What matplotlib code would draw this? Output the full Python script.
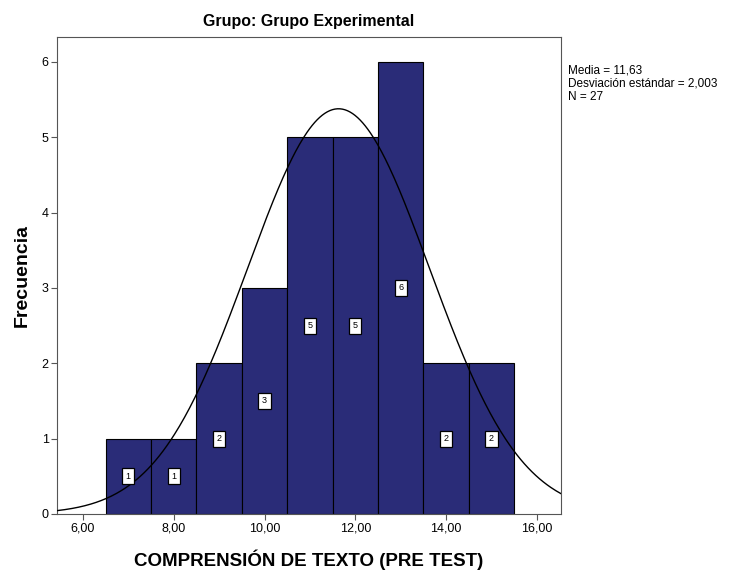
import numpy as np
import matplotlib
matplotlib.use("Agg")
import matplotlib.pyplot as plt

bin_centers = [7, 8, 9, 10, 11, 12, 13, 14, 15]
counts = [1, 1, 2, 3, 5, 5, 6, 2, 2]
mean_val = 11.63
sd_val = 2.003
n_val = 27
xticks = [6, 8, 10, 12, 14, 16]
xtick_labels = ["6,00", "8,00", "10,00", "12,00", "14,00", "16,00"]
yticks = [0, 1, 2, 3, 4, 5, 6]

plt.rcParams['font.family'] = ['Liberation Sans', 'DejaVu Sans']
fig = plt.figure(figsize=(7.4, 5.7), dpi=100)
ax = fig.add_axes([57/740, 56/570, 504/740, 477/570])

bar_color = "#2A2C78"
ax.bar(bin_centers, counts, width=1.0, color=bar_color, edgecolor="black", linewidth=0.8, zorder=2)

for xc, c in zip(bin_centers, counts):
    ax.text(xc, c/2, str(c), ha="center", va="center", fontsize=6.5, color="black", zorder=4,
            bbox=dict(boxstyle="square,pad=0.4", fc="white", ec="black", lw=0.9))

xs = np.linspace(5.43, 16.53, 400)
ys = n_val * 1.0 / (sd_val*np.sqrt(2*np.pi)) * np.exp(-0.5*((xs-mean_val)/sd_val)**2)
ax.plot(xs, ys, color="black", linewidth=1.0, zorder=3)

ax.set_xlim(5.43, 16.53)
ax.set_ylim(0, 6.33)
ax.set_xticks(xticks)
ax.set_xticklabels(xtick_labels, fontsize=9)
ax.set_yticks(yticks)
ax.set_yticklabels([str(v) for v in yticks], fontsize=9)
ax.tick_params(direction="out", length=4, width=0.8, color="#555555", pad=2)
for s in ax.spines.values():
    s.set_linewidth(0.8)
    s.set_color("#555555")

ax.set_title("Grupo: Grupo Experimental", fontsize=11.5, fontweight="bold", pad=8)
ax.set_xlabel("COMPRENSIÓN DE TEXTO (PRE TEST)", fontsize=13.5, fontweight="bold", labelpad=11)
ax.set_ylabel("Frecuencia", fontsize=14, fontweight="bold", labelpad=8)

fig.text(568/740, 1 - 84/570, "Media = 11,63\nDesviación estándar = 2,003\nN = 27",
         fontsize=8.5, va="center", ha="left", linespacing=1.15)

fig.savefig("out.png", dpi=100)
